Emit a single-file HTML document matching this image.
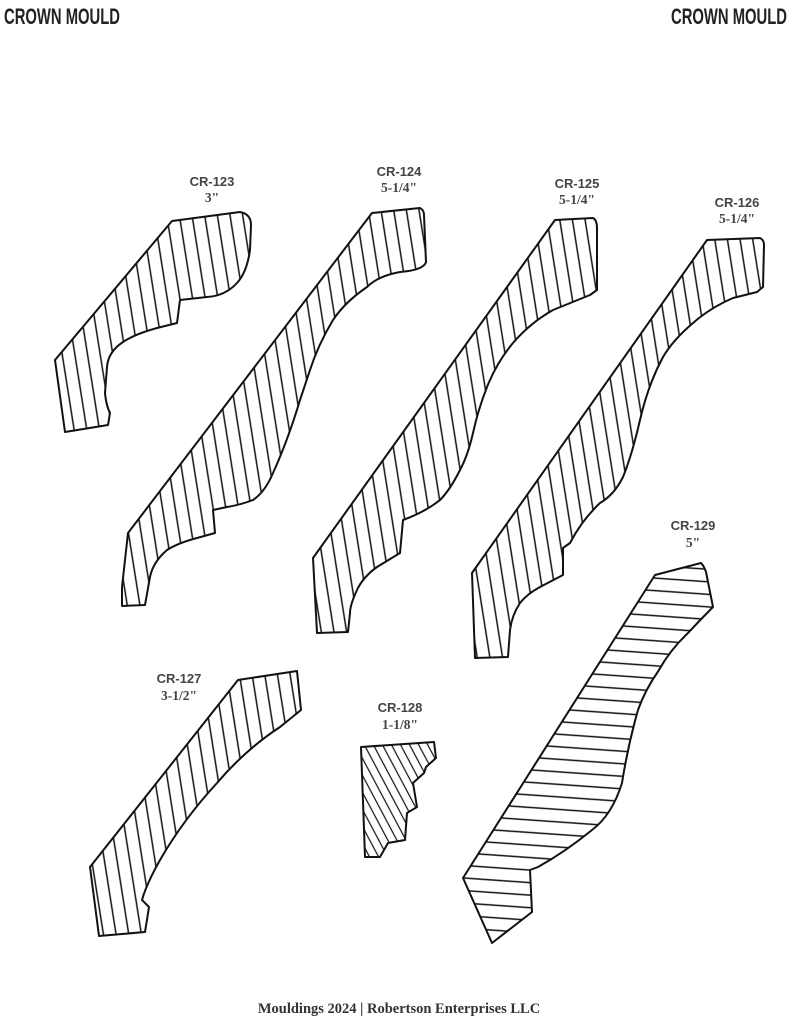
<!DOCTYPE html>
<html><head><meta charset="utf-8">
<style>
html,body{margin:0;padding:0;background:#fff;}
body{width:791px;height:1024px;overflow:hidden;position:relative;}
svg{position:absolute;left:0;top:0;}
.h{font-family:"Liberation Sans Narrow","Liberation Sans",sans-serif;font-weight:bold;font-size:22px;fill:#222;}
.l{font-family:"Liberation Sans",sans-serif;font-weight:bold;font-size:13px;fill:#444;}
.s{font-family:"Liberation Serif",serif;font-weight:bold;font-size:13.5px;fill:#444;}
.f{font-family:"Liberation Serif",serif;font-weight:bold;font-size:14.5px;fill:#333;}
.o{fill:url(#pv);stroke:#111;stroke-width:2;stroke-linejoin:round;}
</style></head><body>
<svg width="791" height="1024" viewBox="0 0 791 1024">
<defs>
<pattern id="pv" width="12.5" height="40" patternUnits="userSpaceOnUse" patternTransform="rotate(-9)">
<rect width="12.5" height="40" fill="#fff"/><line x1="6" y1="0" x2="6" y2="40" stroke="#111" stroke-width="1.5"/></pattern>
<pattern id="p8" width="8" height="40" patternUnits="userSpaceOnUse" patternTransform="rotate(-28)">
<rect width="8" height="40" fill="#fff"/><line x1="4" y1="0" x2="4" y2="40" stroke="#111" stroke-width="1.2"/></pattern>
<pattern id="ph" width="40" height="12.5" patternUnits="userSpaceOnUse" patternTransform="rotate(4)">
<rect width="40" height="12.5" fill="#fff"/><line x1="0" y1="6" x2="40" y2="6" stroke="#111" stroke-width="1.6"/></pattern>
</defs>

<text x="4" y="24" class="h" textLength="116" lengthAdjust="spacingAndGlyphs">CROWN MOULD</text>
<text x="671" y="24" class="h" textLength="116" lengthAdjust="spacingAndGlyphs">CROWN MOULD</text>

<text x="212" y="186" class="l" text-anchor="middle">CR-123</text>
<text x="212" y="202" class="s" text-anchor="middle">3"</text>
<text x="399" y="176" class="l" text-anchor="middle">CR-124</text>
<text x="399" y="192" class="s" text-anchor="middle">5-1/4"</text>
<text x="577" y="188" class="l" text-anchor="middle">CR-125</text>
<text x="577" y="204" class="s" text-anchor="middle">5-1/4"</text>
<text x="737" y="207" class="l" text-anchor="middle">CR-126</text>
<text x="737" y="223" class="s" text-anchor="middle">5-1/4"</text>
<text x="179" y="683" class="l" text-anchor="middle">CR-127</text>
<text x="179" y="700" class="s" text-anchor="middle">3-1/2"</text>
<text x="400" y="712" class="l" text-anchor="middle">CR-128</text>
<text x="400" y="729" class="s" text-anchor="middle">1-1/8"</text>
<text x="693" y="530" class="l" text-anchor="middle">CR-129</text>
<text x="693" y="547" class="s" text-anchor="middle">5"</text>

<path class="o" d="M172,221 L240,212 Q251,214 251,225 L250,250 Q247,272 237,283 Q225,296 207,297 L180,300 L177,323 L157,328 Q135,334 123,342 Q108,352 107,367 L105,393 Q106,405 110,413 L108,425 L65,432 L55,360 Z"/>
<path class="o" d="M372,213 L420,208 Q424,210 424,215 L426,262 Q424,270 400,272 Q378,276 367,287 Q345,302 333,320 Q318,345 310,370 L300,400 Q288,440 273,473 Q265,492 253,500 Q240,505 227,507 L213,510 L215,533 L197,538 Q178,543 167,550 Q153,562 150,577 L145,605 L122,606 L122,587 L128,533 Z"/>
<path class="o" d="M555,220 L593,218 Q597,220 597,228 L597,290 L590,295 L553,310 Q530,323 513,343 Q497,362 487,387 Q478,410 473,433 Q468,455 460,470 Q450,490 440,500 Q425,512 403,520 L400,553 L377,567 Q363,577 357,590 Q350,605 350,613 L348,632 L317,633 L313,558 Z"/>
<path class="o" d="M707,240 L760,238 Q764,240 764,245 L763,287 L757,292 L733,298 Q710,308 693,323 Q673,340 663,357 Q648,385 640,420 Q632,455 623,477 Q614,495 600,503 Q582,520 570,543 L563,548 L563,575 L540,587 Q527,594 520,603 Q512,615 510,630 L508,657 L475,658 L472,573 Z"/>
<path class="o" d="M238,680 L297,671 L301,710 L280,727 Q245,750 217,783 Q183,820 160,860 Q146,885 142,900 L149,907 L145,932 L99,936 L90,867 Z"/>
<path style="fill:url(#p8);stroke:#111;stroke-width:2;stroke-linejoin:round" d="M361,747 L434,742 L436,758 L426,767 L424,773 L413,783 L417,807 L407,813 L405,840 L388,843 L380,857 L365,857 Z"/>
<path style="fill:url(#ph);stroke:#111;stroke-width:2;stroke-linejoin:round" d="M655,575 L701,563 Q704,566 706,572 L713,607 Q700,620 688,633 Q670,650 659,670 Q645,690 638,710 Q628,745 622,783 Q612,815 592,830 Q565,852 538,867 L530,870 L532,912 L492,943 L463,878 Z"/>

<text x="399" y="1013" class="f" text-anchor="middle">Mouldings 2024 | Robertson Enterprises LLC</text>
</svg>
</body></html>
